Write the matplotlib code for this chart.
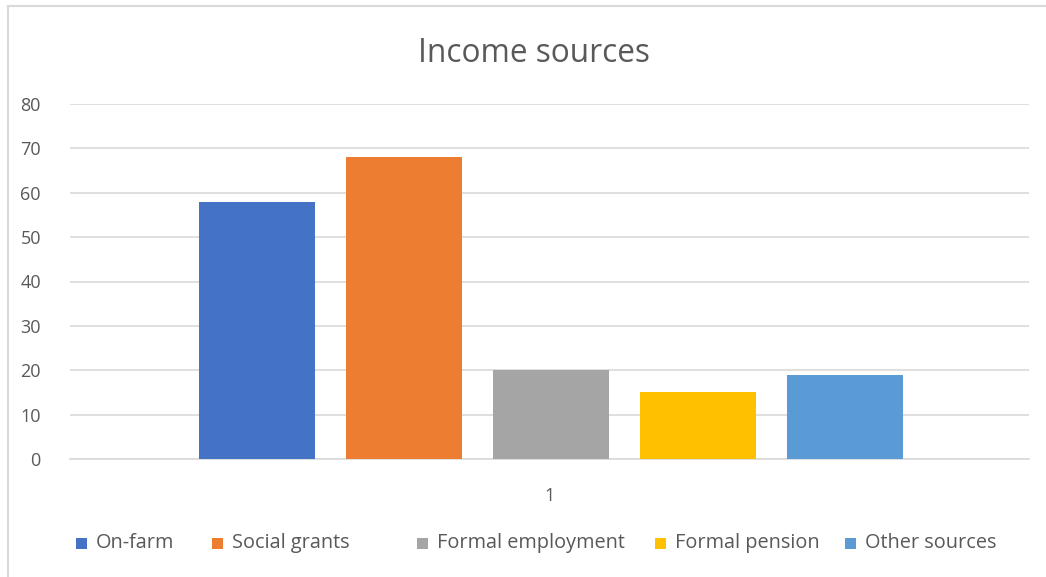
import matplotlib
matplotlib.use("Agg")
import matplotlib.pyplot as plt
from matplotlib.patches import Rectangle
from matplotlib.lines import Line2D

plt.rcParams['font.family'] = ['Open Sans', 'DejaVu Sans']

# Data
series = ["On-farm", "Social grants", "Formal employment", "Formal pension", "Other sources"]
values = [58, 68, 20, 15, 19]
colors = ["#4472C4", "#ED7D31", "#A5A5A5", "#FFC000", "#5B9BD5"]
category_labels = ["1"]
y_ticks = [0, 10, 20, 30, 40, 50, 60, 70, 80]

W, H = 1046, 577
fig = plt.figure(figsize=(W / 100, H / 100), dpi=100)
fig.patch.set_facecolor("white")

text_color = "#595959"
grid_color = "#D9D9D9"

# Plot area
ax_left, ax_right = 70, 1029
ax_top, ax_bottom = 104, 459
ax = fig.add_axes([ax_left / W, 1 - ax_bottom / H, (ax_right - ax_left) / W, (ax_bottom - ax_top) / H])

step = 0.1533
width = 0.121
n = len(series)
for i, (name, v, c) in enumerate(zip(series, values, colors)):
    offset = (i - (n - 1) / 2) * step
    ax.bar(0.002 + offset, v, width=width, color=c, zorder=3, label=name)

ax.set_xlim(-0.5, 0.5)
ax.set_ylim(0, 80)
ax.set_yticks(y_ticks)
ax.set_xticks([0])
ax.set_xticklabels(category_labels)
ax.yaxis.grid(True, color=grid_color, linewidth=1.2, zorder=0)
ax.set_axisbelow(True)
for s in ["top", "right", "left"]:
    ax.spines[s].set_visible(False)
ax.spines["bottom"].set_color(grid_color)
ax.spines["bottom"].set_linewidth(1.2)
ax.tick_params(axis="both", length=0, labelsize=13, colors=text_color)
ax.tick_params(axis="y", pad=21)
ax.tick_params(axis="x", pad=20)

# Title
fig.text(534 / W, 1 - 62 / H, "Income sources", ha="center", va="baseline",
         fontsize=22.8, color=text_color)

# Legend entries
legend_text_x = [96, 232, 437, 675, 865]
legend_y = 543
sq = 11
for x, name, c in zip(legend_text_x, series, colors):
    fig.patches.append(Rectangle(((x - 20) / W, 1 - (legend_y + sq / 2) / H), sq / W, sq / H,
                                 transform=fig.transFigure, facecolor=c, edgecolor="none"))
    fig.text(x / W, 1 - legend_y / H, name, ha="left", va="center",
             fontsize=14.3, color=text_color)

# Chart border
fig.add_artist(Line2D([8 / W, 8 / W], [0, 1 - 6 / H], transform=fig.transFigure,
                      color=grid_color, linewidth=1.5))
fig.add_artist(Line2D([8 / W, 1], [1 - 6 / H, 1 - 6 / H], transform=fig.transFigure,
                      color=grid_color, linewidth=1.5))

fig.savefig("out.png", dpi=100)
